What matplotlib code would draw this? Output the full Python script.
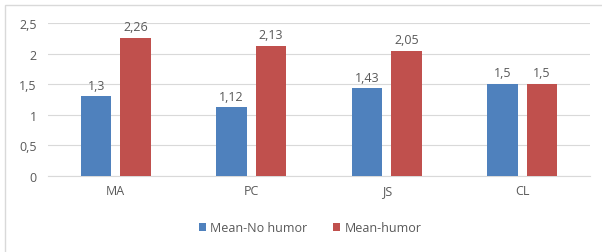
import matplotlib
matplotlib.use('Agg')
import matplotlib.pyplot as plt
import numpy as np
from matplotlib.patches import Rectangle

categories = ['MA', 'PC', 'JS', 'CL']
no_humor = [1.3, 1.12, 1.43, 1.5]
humor = [2.26, 2.13, 2.05, 1.5]
labels_no = ['1,3', '1,12', '1,43', '1,5']
labels_hu = ['2,26', '2,13', '2,05', '1,5']
yticks = [0, 0.5, 1, 1.5, 2, 2.5]
ytick_labels = ['0', '0,5', '1', '1,5', '2', '2,5']

BLUE = '#4F81BD'
RED = '#C0504D'
TXT = '#595959'
FS = 9

plt.rcParams['font.family'] = ['Open Sans', 'DejaVu Sans']

fig = plt.figure(figsize=(6.02, 2.53), dpi=100)
fig.patches.append(Rectangle((5 / 602, -0.05), 1.1, 1 - 6 / 253 + 0.05,
                             transform=fig.transFigure, fill=False,
                             edgecolor='#D9D9D9', linewidth=1))
ax = fig.add_axes([48 / 602, 1 - 177 / 253, (590 - 48) / 602, (177 - 24) / 253])

x = np.arange(len(categories))
w = 0.225
off = 0.145
b1 = ax.bar(x - off, no_humor, w, color=BLUE, label='Mean-No humor', zorder=3)
b2 = ax.bar(x + off, humor, w, color=RED, label='Mean-humor', zorder=3)

for bars, labs in ((b1, labels_no), (b2, labels_hu)):
    for r, t in zip(bars, labs):
        ax.text(r.get_x() + r.get_width() / 2, r.get_height() + 0.08, t,
                ha='center', va='bottom', fontsize=FS, color=TXT)

ax.set_xlim(-0.5, 3.5)
ax.set_ylim(0, 2.5)
ax.set_yticks(yticks)
ax.set_yticklabels(ytick_labels)
ax.set_xticks(x)
ax.set_xticklabels(categories)
ax.tick_params(length=0, labelsize=FS, labelcolor=TXT)
ax.tick_params(axis='y', pad=8)
ax.tick_params(axis='x', pad=6)
ax.grid(axis='y', color='#D9D9D9', linewidth=0.8, zorder=0)
for s in ['top', 'right', 'left']:
    ax.spines[s].set_visible(False)
ax.spines['bottom'].set_color('#D9D9D9')
ax.spines['bottom'].set_zorder(1)

fig.legend(handles=[b1, b2], loc='center', bbox_to_anchor=(310 / 602, 1 - 229 / 253),
           ncol=2, frameon=False, fontsize=FS, labelcolor=TXT,
           handlelength=0.6, handleheight=0.6, handletextpad=0.35, columnspacing=2.0)

fig.savefig('out.png', dpi=100)
